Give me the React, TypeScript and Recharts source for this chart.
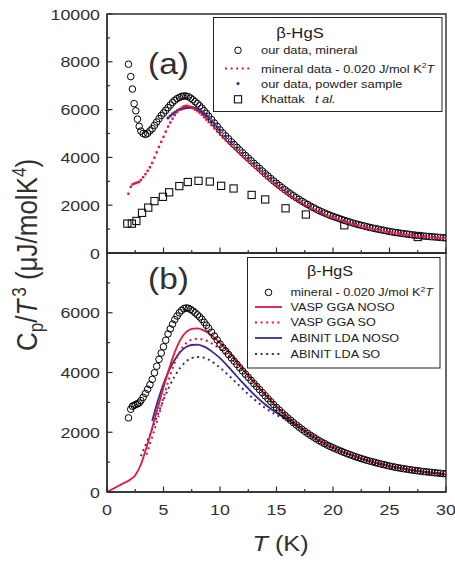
import React from 'react';
import { ComposedChart, Scatter, Line, XAxis, YAxis, ReferenceArea, Legend } from 'recharts';

const FONT = '"Liberation Sans", Arial, Helvetica, sans-serif';
const SX = 1.15;
const INK = '#2e2e2e';
const TXT = '#303030';
const RED = '#e3173e';
const NAVY = '#3a2a8c';

// ---------- axes ----------
const X_TICKS = [0, 2.5, 5, 7.5, 10, 12.5, 15, 17.5, 20, 22.5, 25, 27.5, 30];
const Y_TICKS_A = [0, 1000, 2000, 3000, 4000, 5000, 6000, 7000, 8000, 9000, 10000];
const Y_TICKS_B = [0, 1000, 2000, 3000, 4000, 5000, 6000, 7000];

// ---------- mineral data (temperature grid, K) ----------
const MIN_T = [
  1.9, 2.1, 2.25, 2.4, 2.55, 2.7, 2.85, 3.0,
  3.2, 3.4, 3.6, 3.8, 4.0, 4.2, 4.4, 4.6, 4.8, 5.0, 5.2, 5.4, 5.6, 5.8, 6.0, 6.2, 6.4, 6.6, 6.8, 7.0,
  7.2, 7.4, 7.6, 7.8, 8.0, 8.2, 8.4, 8.6, 8.8, 9.0,
  9.25, 9.5, 9.75, 10, 10.25, 10.5, 10.75, 11, 11.25, 11.5, 11.75, 12, 12.25, 12.5, 12.75, 13,
  13.25, 13.5, 13.75, 14, 14.25, 14.5, 14.75, 15, 15.25, 15.5, 15.75, 16, 16.25, 16.5, 16.75, 17,
  17.25, 17.5, 17.75, 18, 18.25, 18.5, 18.75, 19, 19.25, 19.5, 19.75, 20, 20.25, 20.5, 20.75, 21,
  21.25, 21.5, 21.75, 22, 22.25, 22.5, 22.75, 23, 23.25, 23.5, 23.75, 24, 24.25, 24.5, 24.75, 25,
  25.25, 25.5, 25.75, 26, 26.25, 26.5, 26.75, 27, 27.25, 27.5, 27.75, 28, 28.25, 28.5, 28.75, 29,
  29.25, 29.5, 29.75, 30,
];

// our data, mineral (Cp/T^3)
const MINERAL = [
  7900, 7380, 6860, 6250, 5950, 5600, 5300, 5100,
  5000, 4960, 5010, 5110, 5200, 5340, 5480, 5620, 5750, 5860, 5970, 6080, 6190, 6300, 6390, 6460, 6510, 6550, 6570, 6565,
  6540, 6480, 6410, 6330, 6250, 6160, 6060, 5950, 5840, 5720,
  5580, 5440, 5300, 5150, 5020, 4900, 4780, 4655, 4535, 4420, 4305, 4190, 4080, 3970, 3860, 3750,
  3645, 3540, 3430, 3320, 3220, 3115, 3015, 2920, 2825, 2735, 2645, 2560, 2475, 2395, 2315, 2240,
  2165, 2095, 2030, 1960, 1900, 1840, 1780, 1725, 1675, 1625, 1575, 1530, 1490, 1450, 1405, 1365,
  1330, 1295, 1255, 1220, 1190, 1160, 1130, 1100, 1070, 1045, 1020, 995, 970, 950, 925, 900,
  880, 860, 845, 825, 810, 795, 780, 760, 750, 735, 725, 710, 700, 690, 680, 670,
  660, 650, 640, 630,
];

// mineral data - 0.020 J/mol K^2 T
const MINERAL_CORR = [
  2480, 2770, 2870, 2900, 2930, 2950, 2980, 3060,
  3170, 3300, 3440, 3590, 3770, 3990, 4210, 4440, 4650, 4860, 5080, 5290, 5460, 5620, 5770, 5890, 6000, 6080, 6140, 6160,
  6150, 6110, 6060, 6000, 5930, 5860, 5780, 5680, 5580, 5480,
  5350, 5220, 5090, 4950, 4830, 4720, 4605, 4490, 4380, 4270, 4160, 4050, 3945, 3840, 3735, 3630,
  3530, 3430, 3325, 3220, 3120, 3020, 2925, 2830, 2740, 2650, 2565, 2480, 2400, 2320, 2245, 2170,
  2100, 2030, 1965, 1900, 1840, 1780, 1725, 1670, 1620, 1570, 1525, 1480, 1440, 1400, 1360, 1320,
  1285, 1250, 1215, 1180, 1150, 1120, 1090, 1060, 1035, 1010, 985, 960, 937, 915, 892, 870,
  850, 830, 812, 795, 780, 765, 750, 735, 722, 710, 697, 685, 675, 665, 655, 645,
  635, 625, 617, 610,
];

// our data, powder sample
const POWDER_T = [
  5.4, 5.6, 5.8, 6.0, 6.2, 6.4, 6.6, 6.8, 7.0, 7.2, 7.4, 7.6, 7.8, 8.0, 8.2, 8.4, 8.6, 8.8, 9.0,
  9.25, 9.5, 9.75, 10, 10.5, 11, 11.5, 12, 12.5, 13, 13.5, 14, 14.5, 15, 15.5, 16, 17, 18, 19, 20,
  21, 22, 23, 24, 25, 26, 27, 28, 29, 30,
];
const POWDER = [
  5650, 5740, 5820, 5890, 5950, 6000, 6030, 6060, 6080, 6090, 6090, 6080, 6050, 6010, 5960, 5900, 5830, 5750, 5660,
  5530, 5400, 5270, 5140, 4880, 4630, 4400, 4180, 3960, 3750, 3540, 3330, 3120, 2920, 2740, 2570, 2250, 1970, 1730, 1540,
  1370, 1230, 1100, 990, 900, 825, 760, 710, 665, 630,
];

// Khattak et al.
const KH_T = [1.8, 2.2, 2.6, 3.1, 3.65, 4.2, 4.95, 5.5, 6.4, 7.15, 8.1, 9.1, 10.1, 11.2, 12.8, 14.0, 15.8, 17.6, 21.0, 27.5];
const KH = [1230, 1230, 1340, 1680, 1900, 2170, 2350, 2540, 2800, 2970, 3020, 2990, 2810, 2700, 2430, 2240, 1870, 1610, 1160, 670];

// ---------- calculations (panel b) ----------
const VASP_NOSO_T = [0, 0.5, 1, 1.5, 2, 2.5, 3, 3.5, 4, 4.5, 5, 5.5, 6, 6.5, 7, 7.5, 8, 8.5, 9, 9.5, 10, 11, 12, 13, 14, 15, 16, 17, 18, 19, 20, 22, 24, 26, 28, 30];
const VASP_NOSO = [0, 100, 200, 300, 400, 560, 920, 1500, 2150, 2820, 3500, 4130, 4680, 5100, 5350, 5460, 5480, 5420, 5310, 5160, 4990, 4590, 4120, 3690, 3260, 2860, 2500, 2190, 1910, 1680, 1490, 1185, 960, 795, 680, 600];

const VASP_SO_T = [3.5, 4, 4.5, 5, 5.5, 6, 6.5, 7, 7.5, 8, 8.5, 9, 9.5, 10, 11, 12, 13, 14, 15, 16, 17, 18, 19, 20, 22, 24, 26, 28, 30];
const VASP_SO = [1250, 1850, 2450, 3150, 3800, 4330, 4730, 4980, 5100, 5130, 5100, 5030, 4920, 4790, 4460, 4080, 3670, 3260, 2860, 2500, 2190, 1910, 1680, 1490, 1185, 960, 795, 680, 600];

const ABINIT_NOSO_T = [4, 4.5, 5, 5.5, 6, 6.5, 7, 7.5, 8, 8.5, 9, 9.5, 10, 11, 12, 13, 14, 15, 16, 17, 18, 19, 20, 22, 24, 26, 28, 30];
const ABINIT_NOSO = [2380, 3050, 3620, 4080, 4430, 4690, 4850, 4920, 4930, 4880, 4780, 4640, 4480, 4080, 3660, 3270, 2930, 2650, 2430, 2170, 1900, 1670, 1480, 1180, 955, 790, 675, 595];

const ABINIT_SO_T = [3, 3.5, 4, 4.5, 5, 5.5, 6, 6.5, 7, 7.5, 8, 8.5, 9, 9.5, 10, 11, 12, 13, 14, 15, 16, 17, 18, 19, 20, 22, 24, 26, 28, 30];
const ABINIT_SO = [1200, 1650, 2100, 2600, 3080, 3520, 3880, 4170, 4370, 4480, 4520, 4500, 4430, 4310, 4160, 3820, 3450, 3110, 2810, 2580, 2400, 2150, 1890, 1665, 1475, 1178, 952, 788, 673, 593];

const pts = (xs: number[], ys: number[]) => xs.map((x, i) => ({ x, y: ys[i] }));

const mineralPts = pts(MIN_T, MINERAL);
const corrPts = pts(MIN_T, MINERAL_CORR);
const powderPts = pts(POWDER_T, POWDER);
const khPts = pts(KH_T, KH);
const vaspNosoPts = pts(VASP_NOSO_T, VASP_NOSO);
const vaspSoPts = pts(VASP_SO_T, VASP_SO);
const abinitNosoPts = pts(ABINIT_NOSO_T, ABINIT_NOSO);
const abinitSoPts = pts(ABINIT_SO_T, ABINIT_SO);

// ---------- marks ----------
const OpenCircle = (p: any) => <circle cx={p.cx} cy={p.cy} r={3.3} fill="none" stroke="#000" strokeWidth={1} />;
const OpenSquare = (p: any) => <rect x={p.cx - 3.6} y={p.cy - 3.6} width={7.2} height={7.2} fill="none" stroke="#111" strokeWidth={1.1} />;
const RedDot = (p: any) => <rect x={p.cx - 1.2} y={p.cy - 1.2} width={2.4} height={2.4} fill={RED} />;
const NavyDot = (p: any) => <circle cx={p.cx} cy={p.cy} r={1.6} fill={NAVY} />;

// ---------- ticks ----------
function YTick(props: any) {
  const { x, y, payload } = props;
  const v = payload.value;
  const major = v % 2000 === 0;
  return (
    <g>
      <line x1={x} y1={y} x2={x + (major ? 5.5 : 3)} y2={y} stroke={INK} strokeWidth={1.2} />
      {major && (
        <text transform={`translate(${x - 7},${y}) scale(${SX},1)`} textAnchor="end" dy="0.36em" fontSize={15.5} fill={TXT} fontFamily={FONT}>
          {v}
        </text>
      )}
    </g>
  );
}

function XTick(props: any) {
  const { x, y, payload, showLabel } = props;
  const v = payload.value;
  const major = v % 5 === 0;
  return (
    <g>
      <line x1={x} y1={y} x2={x} y2={y - (major ? 5.5 : 3)} stroke={INK} strokeWidth={1.2} />
      {showLabel && major && (
        <text transform={`translate(${x},${y + 17}) scale(${SX},1)`} textAnchor="middle" dy="0.36em" fontSize={15.5} fill={TXT} fontFamily={FONT}>
          {v}
        </text>
      )}
    </g>
  );
}

function XLabel(props: any) {
  const vb = props.viewBox || { x: 107, y: 240, width: 339 };
  const cx = vb.x + vb.width / 2 + 4;
  const by = vb.y + 59;
  return (
    <text transform={`translate(${cx},${by}) scale(${SX},1)`} textAnchor="middle" fontSize={22} fill={TXT} fontFamily={FONT}>
      <tspan fontStyle="italic">T</tspan>
      <tspan> (K)</tspan>
    </text>
  );
}

const LT = (x: number, y: number, size: number, children: React.ReactNode, anchor: string = 'start') => (
  <text transform={`translate(${x},${y}) scale(${SX},1)`} fontSize={size} textAnchor={anchor as any} fill="#222" fontFamily={FONT}>
    {children}
  </text>
);

function LegendA() {
  const rows = [37.2, 55.5, 70.5, 86.2];
  return (
    <svg width={230} height={96} style={{ display: 'block', overflow: 'visible' }}>
      <rect x={0.5} y={0.5} width={228.5} height={94} fill="#fff" stroke="#222" strokeWidth={1} />
      {LT(87, 20.5, 14.5, 'β-HgS', 'middle')}
      <circle cx={25} cy={rows[0] - 3.9} r={3.3} fill="none" stroke="#000" strokeWidth={1} />
      {LT(48, rows[0], 11.2, 'our data, mineral')}
      <line x1={12} x2={40} y1={rows[1] - 3.9} y2={rows[1] - 3.9} stroke={RED} strokeWidth={2} strokeDasharray="2 3.6" />
      {LT(48, rows[1], 11.2, (
        <>
          <tspan>mineral data - 0.020 J/mol K</tspan>
          <tspan dy={-4.5} fontSize={7.5}>2</tspan>
          <tspan dy={4.5} fontStyle="italic">T</tspan>
        </>
      ))}
      <circle cx={25} cy={rows[2] - 3.9} r={1.6} fill={NAVY} />
      {LT(48, rows[2], 11.2, 'our data, powder sample')}
      <rect x={21.4} y={rows[3] - 3.9 - 3.6} width={7.2} height={7.2} fill="none" stroke="#111" strokeWidth={1.1} />
      {LT(48, rows[3], 11.2, (
        <>
          <tspan>Khattak</tspan>
          <tspan dx={9} fontStyle="italic">t al.</tspan>
        </>
      ))}
    </svg>
  );
}

function LegendB() {
  const rows = [35.4, 50, 65.4, 81, 97].map((r) => r + 3.9);
  const c = (r: number) => r - 3.9;
  return (
    <svg width={195} height={112} style={{ display: 'block', overflow: 'visible' }}>
      <rect x={0.5} y={0.5} width={192.5} height={110.5} fill="#fff" stroke="#222" strokeWidth={1} />
      {LT(83, 19, 14, 'β-HgS', 'middle')}
      <circle cx={21.5} cy={c(rows[0])} r={3.3} fill="none" stroke="#000" strokeWidth={1} />
      {LT(43.5, rows[0], 11, (
        <>
          <tspan>mineral - 0.020 J/mol K</tspan>
          <tspan dy={-4.5} fontSize={7.5}>2</tspan>
          <tspan dy={4.5} fontStyle="italic">T</tspan>
        </>
      ))}
      <line x1={8} x2={35} y1={c(rows[1])} y2={c(rows[1])} stroke={RED} strokeWidth={1.8} />
      {LT(43.5, rows[1], 11, 'VASP GGA NOSO')}
      <line x1={8} x2={35} y1={c(rows[2])} y2={c(rows[2])} stroke={RED} strokeWidth={2} strokeDasharray="2 3.6" />
      {LT(43.5, rows[2], 11, 'VASP GGA SO')}
      <line x1={8} x2={35} y1={c(rows[3])} y2={c(rows[3])} stroke={NAVY} strokeWidth={1.8} />
      {LT(43.5, rows[3], 11, 'ABINIT LDA NOSO')}
      <line x1={8} x2={35} y1={c(rows[4])} y2={c(rows[4])} stroke={NAVY} strokeWidth={2} strokeDasharray="2 3.6" />
      {LT(43.5, rows[4], 11, 'ABINIT LDA SO')}
    </svg>
  );
}

export default function App() {
  const axisLine = { stroke: INK, strokeWidth: 1.4 };
  return (
    <div style={{ position: 'absolute', left: 0, top: 0, width: 455, height: 561, background: '#fff', fontFamily: FONT }}>
      {/* panel (a) */}
      <div style={{ position: 'absolute', left: 0, top: 0 }}>
        <ComposedChart width={455} height={266} margin={{ top: 14, right: 9, bottom: 0, left: 0 }}>
          <XAxis
            type="number"
            dataKey="x"
            domain={[0, 30]}
            ticks={X_TICKS}
            interval={0}
            allowDataOverflow
            height={13}
            tickSize={0}
            tickMargin={0}
            tickLine={false}
            axisLine={axisLine}
            tick={(p: any) => <XTick {...p} showLabel={false} />}
          />
          <YAxis
            type="number"
            dataKey="y"
            domain={[0, 10000]}
            ticks={Y_TICKS_A}
            interval={0}
            allowDataOverflow
            width={107}
            tickSize={0}
            tickMargin={0}
            tickLine={false}
            axisLine={axisLine}
            tick={(p: any) => <YTick {...p} />}
          />
          <ReferenceArea x1={0} x2={30} y1={0} y2={10000} fill="none" stroke={INK} strokeWidth={1.4} ifOverflow="visible" />
          <Scatter name="Khattak et al." data={khPts} shape={OpenSquare} isAnimationActive={false} />
          <Scatter name="our data, mineral" data={mineralPts} shape={OpenCircle} isAnimationActive={false} />
          <Scatter name="our data, powder sample" data={powderPts} shape={NavyDot} isAnimationActive={false} />
          <Scatter name="mineral data - 0.020 J/mol K2T" data={corrPts} shape={RedDot} isAnimationActive={false} />
          <Legend
            layout="vertical"
            align="center"
            verticalAlign="middle"
            content={() => <LegendA />}
            wrapperStyle={{ position: 'absolute', left: 213, top: 16.5, width: 230, height: 96 }}
          />
        </ComposedChart>
      </div>

      {/* panel (b) */}
      <div style={{ position: 'absolute', left: 0, top: 252 }}>
        <ComposedChart width={455} height={309} margin={{ top: 1, right: 9, bottom: 0, left: 0 }}>
          <XAxis
            type="number"
            dataKey="x"
            domain={[0, 30]}
            ticks={X_TICKS}
            interval={0}
            allowDataOverflow
            height={69}
            tickSize={0}
            tickMargin={0}
            tickLine={false}
            axisLine={axisLine}
            tick={(p: any) => <XTick {...p} showLabel />}
            label={{ content: (p: any) => <XLabel {...p} /> }}
          />
          <YAxis
            type="number"
            dataKey="y"
            domain={[0, 8000]}
            ticks={Y_TICKS_B}
            interval={0}
            allowDataOverflow
            width={107}
            tickSize={0}
            tickMargin={0}
            tickLine={false}
            axisLine={axisLine}
            tick={(p: any) => <YTick {...p} />}
          />
          <ReferenceArea x1={0} x2={30} y1={0} y2={8000} fill="none" stroke={INK} strokeWidth={1.4} ifOverflow="visible" />
          <Scatter name="mineral - 0.020 J/mol K2T" data={corrPts} shape={OpenCircle} isAnimationActive={false} />
          <Line name="ABINIT LDA SO" data={abinitSoPts} dataKey="y" type="monotone" stroke={NAVY} strokeWidth={2} strokeDasharray="2 3.6" dot={false} activeDot={false} isAnimationActive={false} />
          <Line name="ABINIT LDA NOSO" data={abinitNosoPts} dataKey="y" type="monotone" stroke={NAVY} strokeWidth={1.8} dot={false} activeDot={false} isAnimationActive={false} />
          <Line name="VASP GGA SO" data={vaspSoPts} dataKey="y" type="monotone" stroke={RED} strokeWidth={2} strokeDasharray="2 3.6" dot={false} activeDot={false} isAnimationActive={false} />
          <Line name="VASP GGA NOSO" data={vaspNosoPts} dataKey="y" type="monotone" stroke={RED} strokeWidth={1.8} dot={false} activeDot={false} isAnimationActive={false} />
          <Legend
            layout="vertical"
            align="center"
            verticalAlign="middle"
            content={() => <LegendB />}
            wrapperStyle={{ position: 'absolute', left: 246.5, top: 5.3, width: 195, height: 112 }}
          />
        </ComposedChart>
      </div>

      {/* y-axis title and panel labels */}
      <svg width={455} height={561} style={{ position: 'absolute', left: 0, top: 0, pointerEvents: 'none' }}>
        <text transform={`translate(37,255) scale(${SX},1) rotate(-90)`} textAnchor="middle" fontSize={26} fill={TXT} fontFamily={FONT}>
          <tspan>C</tspan>
          <tspan dy={5.5} fontSize={17}>p</tspan>
          <tspan dy={-5.5}>/</tspan>
          <tspan fontStyle="italic">T</tspan>
          <tspan dx={3} dy={-10} fontSize={17}>3</tspan>
          <tspan dy={10}> (μJ/molK</tspan>
          <tspan dy={-10} fontSize={17}>4</tspan>
          <tspan dy={10}>)</tspan>
        </text>
        <text transform={`translate(168.5,74) scale(${SX},1)`} textAnchor="middle" fontSize={29} fill={TXT} fontFamily={FONT}>(a)</text>
        <text transform={`translate(168.5,289) scale(${SX},1)`} textAnchor="middle" fontSize={29} fill={TXT} fontFamily={FONT}>(b)</text>
      </svg>
    </div>
  );
}
